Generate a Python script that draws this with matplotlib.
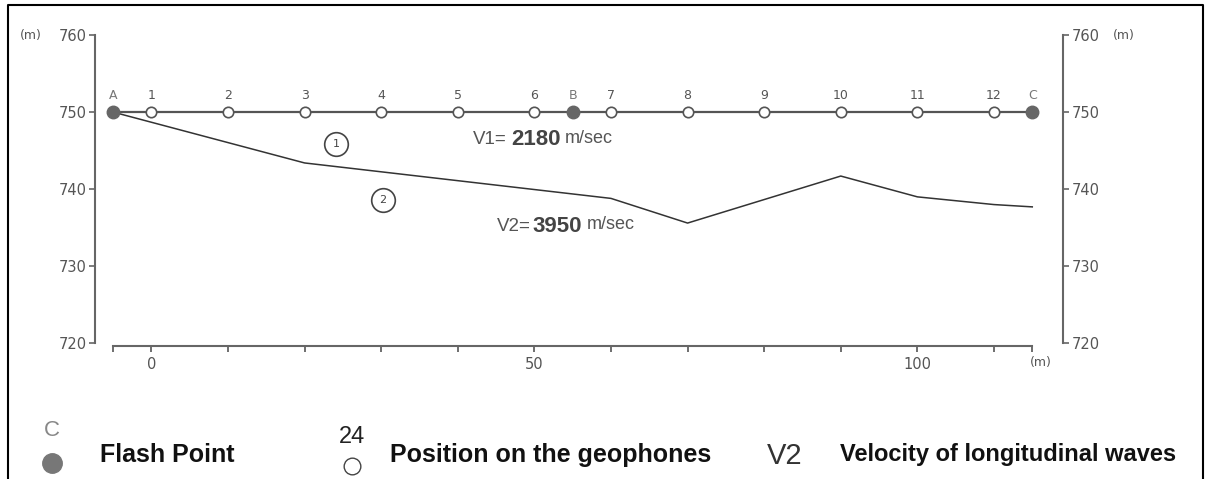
import matplotlib
matplotlib.use("Agg")
import matplotlib.pyplot as plt
from matplotlib.lines import Line2D

# ---- data ----
geophone_x = [0, 10, 20, 30, 40, 50, 60, 70, 80, 90, 100, 110]
geophone_labels = ["1", "2", "3", "4", "5", "6", "7", "8", "9", "10", "11", "12"]
flash_x = [-5, 55, 115]
flash_labels = ["A", "B", "C"]
surface_elev = 750
interface_x = [-5, 20, 60, 70, 90, 100, 110, 115]
interface_y = [750, 743.4, 738.8, 735.6, 741.7, 739.0, 738.0, 737.7]
yticks = [720, 730, 740, 750, 760]
xticks = [-5, 0, 10, 20, 30, 40, 50, 60, 70, 80, 90, 100, 110, 115]
xlabeled = [0, 50, 100]
layer_tags = ["1", "2"]
layer_tag_pos = [(24.1, 745.8), (30.2, 738.6)]

W, H = 1211, 479
fig = plt.figure(figsize=(W / 100, H / 100), dpi=100)
fig.patch.set_facecolor("white")

def fx(x):
    return x / W

def fy(y):
    return 1 - y / H

ax = fig.add_axes([fx(95), fy(343.3), (1063.3 - 95) / W, (343.3 - 35) / H])
ax.set_xlim(-7.36, 119.05)
ax.set_ylim(720, 760)

gray = "#555555"
ax.spines["top"].set_visible(False)
for s in ["left", "right", "bottom"]:
    ax.spines[s].set_color("#666666")
    ax.spines[s].set_linewidth(1.5)
ax.spines["bottom"].set_bounds(-5, 115)
ax.spines["bottom"].set_position(("outward", 2))

ax.set_yticks(yticks)
ax.set_yticklabels([str(v) for v in yticks])
ax.tick_params(axis="y", which="both", left=True, right=True, labelleft=True,
               labelright=True, direction="out", length=4, width=1.2,
               color="#666666", labelcolor=gray, labelsize=10.5, pad=2)
ax.set_xticks(xticks)
ax.set_xticklabels([str(v) if v in xlabeled else "" for v in xticks])
ax.tick_params(axis="x", direction="out", length=4, width=1.2, color="#555555",
               labelcolor=gray, labelsize=10.5, pad=4)

# units
ax.annotate("(m)", xy=(0, 1), xycoords="axes fraction", xytext=(-38, 0),
            textcoords="offset points", ha="right", va="center", fontsize=9, color=gray)
ax.annotate("(m)", xy=(1, 1), xycoords="axes fraction", xytext=(36, 0),
            textcoords="offset points", ha="left", va="center", fontsize=9, color=gray)
ax.annotate("(m)", xy=(115, 720), xycoords="data", xytext=(6, -14),
            textcoords="offset points", ha="center", va="center", fontsize=9,
            color=gray, annotation_clip=False)

# surface line
ax.plot([min(flash_x), max(flash_x)], [surface_elev, surface_elev], color="#555555",
        lw=1.6, zorder=2)
# interface
ax.plot(interface_x, interface_y, color="#333333", lw=1.1, zorder=2)
# geophones
ax.plot(geophone_x, [surface_elev] * len(geophone_x), "o", mfc="white", mec="#555555",
        ms=7.5, mew=1.2, zorder=3)
# flash points
ax.plot(flash_x, [surface_elev] * len(flash_x), "o", color="#666666", ms=9, zorder=4)

for x, lab in zip(geophone_x, geophone_labels):
    ax.annotate(lab, (x, surface_elev), xytext=(0, 12), textcoords="offset points",
                ha="center", va="center", fontsize=9, color=gray)
for x, lab in zip(flash_x, flash_labels):
    ax.annotate(lab, (x, surface_elev), xytext=(0, 12), textcoords="offset points",
                ha="center", va="center", fontsize=9, color="#777777")

for (x, y), lab in zip(layer_tag_pos, layer_tags):
    ax.plot([x], [y], "o", mfc="none", mec="#444444", ms=17, mew=1.2)
    ax.text(x, y, lab, ha="center", va="center", fontsize=8, color="#444444")

# velocity texts
fam = ["Liberation Sans", "DejaVu Sans"]
ax.text(42.0, 746.4, "V1=", ha="left", va="center", fontsize=13.5, color=gray, family=fam)
ax.text(47.0, 746.4, "2180", ha="left", va="center", fontsize=16, color="#444444",
        fontweight="bold", family=fam)
ax.text(54.0, 746.6, "m/sec", ha="left", va="center", fontsize=13, color=gray, family=fam)
ax.text(45.1, 735.2, "V2=", ha="left", va="center", fontsize=13.5, color=gray, family=fam)
ax.text(49.8, 735.2, "3950", ha="left", va="center", fontsize=16, color="#444444",
        fontweight="bold", family=fam)
ax.text(56.8, 735.4, "m/sec", ha="left", va="center", fontsize=13, color=gray, family=fam)

# legend at bottom
fig.text(fx(52), fy(431), "C", ha="center", va="center", fontsize=16, color="#888888",
         family=fam)
fig.add_artist(Line2D([fx(52)], [fy(463)], marker="o", color="#777777", ms=14,
                      transform=fig.transFigure, linestyle="none"))
fig.text(fx(100), fy(455), "Flash Point", ha="left", va="center", fontsize=18,
         fontweight="bold", color="#111111", family=fam)
fig.text(fx(352), fy(437), "24", ha="center", va="center", fontsize=17, color="#222222",
         family=fam)
fig.add_artist(Line2D([fx(352)], [fy(466)], marker="o", mfc="white", mec="#444444",
                      ms=12, mew=1.0, transform=fig.transFigure, linestyle="none"))
fig.text(fx(390), fy(455), "Position on the geophones", ha="left", va="center",
         fontsize=18, fontweight="bold", color="#111111", family=fam)
fig.text(fx(785), fy(456), "V2", ha="center", va="center", fontsize=21, color="#333333",
         family=fam)
fig.text(fx(840), fy(455), "Velocity of longitudinal waves", ha="left", va="center",
         fontsize=17, fontweight="bold", color="#111111", family=fam)

# outer frame (left, top, right)
fig.add_artist(Line2D([fx(8), fx(8), fx(1203), fx(1203)], [0, fy(5), fy(5), 0],
                      color="black", lw=1.5, transform=fig.transFigure))

fig.savefig("out.png", dpi=100, facecolor="white")
